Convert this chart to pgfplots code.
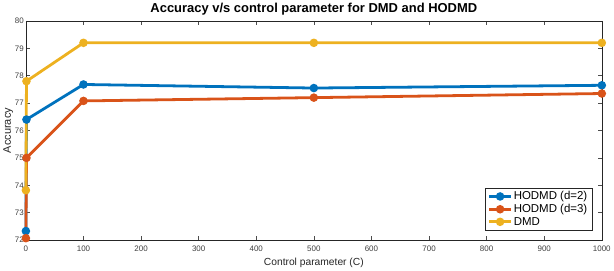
\documentclass[border=0pt]{standalone}
\usepackage{pgfplots}
\pgfplotsset{compat=1.18}
\usepackage{fontspec}
\setmainfont{Liberation Sans}
\definecolor{cA}{rgb}{0,0.447,0.741}
\definecolor{cB}{rgb}{0.85,0.325,0.098}
\definecolor{cC}{rgb}{0.929,0.694,0.125}
\begin{document}
\begin{tikzpicture}
\begin{axis}[
  width=578pt, height=220pt, scale only axis,
  xmin=0, xmax=1000, ymin=72, ymax=80,
  clip=false,
  xtick={0,100,...,1000}, ytick={72,73,...,80},
  tick align=inside, major tick length=4pt,
  tick style={black!70, line width=0.5pt},
  axis line style={black!85, line width=0.6pt},
  tick label style={font=\fontsize{8}{9}\selectfont, text=black!75},
  /pgf/number format/assume math mode=true,
  /pgf/number format/1000 sep={},
  title={\textbf{Accuracy v/s control parameter for DMD and HODMD}},
  title style={font=\fontsize{13}{14}\selectfont, yshift=-4pt},
  xlabel={Control parameter (C)}, ylabel={Accuracy},
  xlabel style={font=\fontsize{10.3}{12}\selectfont, text=black!85, yshift=1pt},
  ylabel style={font=\fontsize{11}{12}\selectfont, text=black!85, yshift=-5pt},
  xticklabel style={yshift=-2.5pt},
  yticklabel style={xshift=1.5pt},
  legend cell align=left,
  legend style={at={(0.983,0.045)}, anchor=south east, font=\fontsize{11.5}{13}\selectfont,
    draw=black!85, line width=0.5pt, inner xsep=3pt, inner ysep=2pt, row sep=0pt,
    nodes={inner sep=1.5pt}},
  legend image code/.code={
    \draw[mark repeat=2,mark phase=2] plot coordinates {(0cm,0cm) (0.38cm,0cm) (0.76cm,0cm)};},
  every axis plot/.append style={line width=2.8pt, mark=*, mark size=2.8pt},
]
\addplot[color=cA, mark options={fill=cA}] coordinates {(0,72.33) (1,76.4) (100,77.68) (500,77.55) (1000,77.65)};
\addlegendentry{HODMD (d=2)}
\addplot[color=cB, mark options={fill=cB}] coordinates {(0,72.07) (1,75.0) (100,77.08) (500,77.2) (1000,77.35)};
\addlegendentry{HODMD (d=3)}
\addplot[color=cC, mark options={fill=cC}] coordinates {(0,73.82) (1,77.8) (100,79.2) (500,79.2) (1000,79.2)};
\addlegendentry{DMD}
\end{axis}
\end{tikzpicture}
\end{document}
